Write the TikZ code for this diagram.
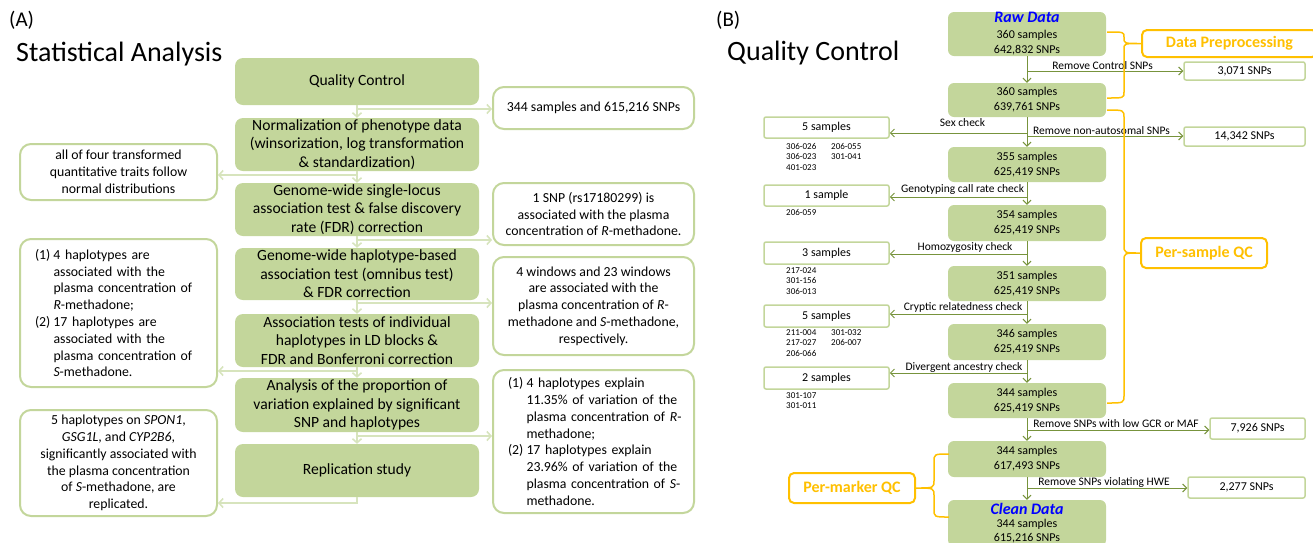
\documentclass[tikz,border=0pt]{standalone}
\usepackage{fontspec}
\setmainfont{Carlito}
\usetikzlibrary{arrows.meta}
\definecolor{gfill}{HTML}{C3D69B}
\definecolor{gline}{HTML}{D7E4BD}
\definecolor{dgreen}{HTML}{77933C}
\definecolor{qcorange}{HTML}{FFC000}
\definecolor{rawblue}{HTML}{0000FF}
\newcommand{\enumlab}[1]{\makebox[18.5pt][l]{#1}}
\newcommand{\enumind}{\hspace*{18.5pt}}
\begin{document}
\begin{tikzpicture}[x=1pt,y=-1pt,
  gbox/.style={fill=gfill, rounded corners=8pt, minimum width=244pt, inner sep=0pt, align=center, font=\fontsize{15.6}{18.5}\selectfont},
  wbox/.style={draw=gfill, line width=2pt, fill=white, rounded corners=11pt, minimum width=201pt, inner sep=0pt, align=center, font=\fontsize{13.8}{16.8}\selectfont},
  lbox/.style={wbox, minimum width=197pt},
  aconn/.style={draw=gline, line width=1.6pt, -{Straight Barb[length=4pt,width=9pt]}},
  sbox/.style={fill=gfill, rounded corners=6pt, minimum width=158pt, inner sep=0pt, align=center, font=\fontsize{12}{15}\selectfont},
  tbox/.style={draw=gfill, line width=1.5pt, fill=white, rounded corners=2pt, inner sep=0pt, minimum width=125pt, minimum height=21pt, font=\fontsize{12}{14}\selectfont},
  bconn/.style={draw=dgreen, line width=1pt, -{Straight Barb[length=4pt,width=8pt]}},
  clabel/.style={inner sep=0pt, font=\fontsize{11.5}{13}\selectfont},
  idtext/.style={anchor=north west, inner sep=0pt, align=left, font=\fontsize{9}{10.7}\selectfont},
  obox/.style={draw=qcorange, line width=2pt, fill=white, rounded corners=5pt, inner sep=0pt, minimum width=126pt, minimum height=30pt, text=qcorange, font=\fontsize{16}{18}\selectfont\bfseries},
  brc/.style={draw=qcorange, line width=1.5pt},
  title/.style={inner sep=0pt, font=\fontsize{28}{32}\selectfont},
]
\useasboundingbox (0,0) rectangle (1313,542);
\clip (0,0) rectangle (1313,542);

% ---------------- (A) ----------------
\node[title, anchor=west, font=\fontsize{21}{24}\selectfont] (tA) at (9,20) {(A)};
\node[title, anchor=base west] (tSA) at (16,61) {Statistical Analysis};

\node[gbox, minimum height=47pt] (qc) at (357,81.5) {Quality Control};
\node[gbox, minimum height=53pt] (norm) at (357,144.5) {Normalization of phenotype data\\(winsorization, log transformation\\\& standardization)};
\node[gbox, minimum height=53pt] (single) at (357,209.5) {Genome-wide single-locus\\association test \& false discovery\\rate (FDR) correction};
\node[gbox, minimum height=52pt] (hapl) at (357,274) {Genome-wide haplotype-based\\association test (omnibus test)\\\& FDR correction};
\node[gbox, minimum height=53pt] (assoc) at (357,340.5) {Association tests of individual\\haplotypes in LD blocks \&\\FDR and Bonferroni correction};
\node[gbox, minimum height=54pt] (prop) at (357,405) {Analysis of the proportion of\\variation explained by significant\\SNP and haplotypes};
\node[gbox, minimum height=53pt] (repl) at (357,470.5) {Replication study};

\node[wbox, minimum height=42pt] (r1) at (593.5,108) {344 samples and 615,216 SNPs};
\node[wbox, minimum height=62pt] (r2) at (593.5,214) {1 SNP (rs17180299) is\\associated with the plasma\\concentration of \textit{R}-methadone.};
\node[wbox, minimum height=98pt] (r3) at (593.5,306) {4 windows and 23 windows\\are associated with the\\plasma concentration of \textit{R}-\\methadone and \textit{S}-methadone,\\respectively.};
\node[wbox, minimum height=143pt, align=left, text width=171pt, inner xsep=15pt] (r4) at (593.5,441.5) {\enumlab{(1)}\mbox{4 haplotypes explain}\\\enumind\mbox{11.35\% of variation of the}\\\enumind\mbox{plasma concentration of \textit{R}-}\\\enumind methadone;\\\enumlab{(2)}\mbox{17 haplotypes explain}\\\enumind\mbox{23.96\% of variation of the}\\\enumind\mbox{plasma concentration of \textit{S}-}\\\enumind methadone.};

\node[lbox, minimum height=56pt] (l1) at (118.5,172) {all of four transformed\\quantitative traits follow\\normal distributions};
\node[lbox, minimum height=148pt, align=left, text width=167pt, inner xsep=15pt] (l2) at (118.5,313) {\enumlab{(1)}\mbox{4 haplotypes are}\\\enumind\mbox{associated with the}\\\enumind\mbox{plasma concentration of}\\\enumind\mbox{\textit{R}-methadone;}\\\enumlab{(2)}\mbox{17 haplotypes are}\\\enumind\mbox{associated with the}\\\enumind\mbox{plasma concentration of}\\\enumind\mbox{\textit{S}-methadone.}};
\node[lbox, minimum height=106pt] (l3) at (118.5,463) {5 haplotypes on \textit{SPON1},\\\textit{GSG1L}, and \textit{CYP2B6},\\significantly associated with\\the plasma concentration\\of \textit{S}-methadone, are\\replicated.};

\coordinate (ja) at (357,109);
\coordinate (jb) at (357,175);
\coordinate (jc) at (357,240);
\coordinate (jd) at (357,303);
\coordinate (je) at (357,371);
\coordinate (jf) at (357,436);
\coordinate (jg) at (357,503);

\draw[aconn] (qc.south) -- (norm.north);
\draw[aconn] (norm.south) -- (single.north);
\draw[aconn] (single.south) -- (hapl.north);
\draw[aconn] (hapl.south) -- (assoc.north);
\draw[aconn] (assoc.south) -- (prop.north);
\draw[aconn] (prop.south) -- (repl.north);
\draw[aconn] (ja) -- (ja -| r1.west);
\draw[aconn] (jb) -- (jb -| l1.east);
\draw[aconn] (jc) -- (jc -| r2.west);
\draw[aconn] (jd) -- (jd -| r3.west);
\draw[aconn] (je) -- (je -| l2.east);
\draw[aconn] (jf) -- (jf -| r4.west);
\draw[aconn] (repl.south) -- (jg) -- (jg -| l3.east);

% ---------------- (B) ----------------
\node[title, anchor=west, font=\fontsize{21}{24}\selectfont] (tB) at (716,20) {(B)};
\node[title, anchor=base west] (tQC) at (727,60) {Quality Control};

\node[sbox, minimum height=44pt, font=\fontsize{12}{15.5}\selectfont] (b1) at (1027,34) {{\color{rawblue}\bfseries\itshape\fontsize{16}{15.5}\selectfont Raw Data}\\360 samples\\642,832 SNPs};
\node[sbox, minimum height=34pt] (b2) at (1027,100) {360 samples\\639,761 SNPs};
\node[sbox, minimum height=35pt] (b3) at (1027,164.5) {355 samples\\625,419 SNPs};
\node[sbox, minimum height=36pt] (b4) at (1027,223) {354 samples\\625,419 SNPs};
\node[sbox, minimum height=35pt] (b5) at (1027,283.5) {351 samples\\625,419 SNPs};
\node[sbox, minimum height=36pt] (b6) at (1027,342) {346 samples\\625,419 SNPs};
\node[sbox, minimum height=35pt] (b7) at (1027,400.5) {344 samples\\625,419 SNPs};
\node[sbox, minimum height=36pt] (b8) at (1027,459) {344 samples\\617,493 SNPs};
\node[sbox, minimum height=46pt, font=\fontsize{12}{13.5}\selectfont] (b9) at (1027,523) {{\color{rawblue}\bfseries\itshape\fontsize{16}{13.5}\selectfont Clean Data}\\344 samples\\615,216 SNPs};

\node[tbox, minimum width=121pt, minimum height=18pt] (rb1) at (1244.5,71) {3,071 SNPs};
\node[tbox, minimum width=121pt, minimum height=19pt] (rb2) at (1244.5,136.5) {14,342 SNPs};
\node[tbox, minimum width=95pt] (rb3) at (1257.5,428.5) {7,926 SNPs};
\node[tbox, minimum width=117pt] (rb4) at (1246.5,487.5) {2,277 SNPs};

\node[tbox] (lb1) at (826.5,127.5) {5 samples};
\node[tbox] (lb2) at (826.5,195.5) {1 sample};
\node[tbox, minimum height=22pt] (lb3) at (826.5,253) {3 samples};
\node[tbox, minimum height=22pt] (lb4) at (826.5,316) {5 samples};
\node[tbox, minimum height=22pt] (lb5) at (826.5,378) {2 samples};

\node[idtext] (id1a) at (786,143) {306-026\\306-023\\401-023};
\node[idtext] (id1b) at (831,143) {206-055\\301-041};
\node[idtext] (id2) at (786,209) {206-059};
\node[idtext] (id3) at (786,267) {217-024\\301-156\\306-013};
\node[idtext] (id4a) at (786,329) {211-004\\217-027\\206-066};
\node[idtext] (id4b) at (831,329) {301-032\\206-007};
\node[idtext] (id5) at (786,392) {301-107\\301-011};

\coordinate (sa) at (1027,71);
\coordinate (sb) at (1027,133);
\coordinate (sc) at (1027,136);
\coordinate (sd) at (1027,197);
\coordinate (se) at (1027,254);
\coordinate (sf) at (1027,314);
\coordinate (sg) at (1027,373);
\coordinate (sh) at (1027,430);
\coordinate (si) at (1027,488);

\draw[bconn] (b1.south) -- (b2.north);
\draw[bconn] (b2.south) -- (b3.north);
\draw[bconn] (b3.south) -- (b4.north);
\draw[bconn] (b4.south) -- (b5.north);
\draw[bconn] (b5.south) -- (b6.north);
\draw[bconn] (b6.south) -- (b7.north);
\draw[bconn] (b7.south) -- (b8.north);
\draw[bconn] (b8.south) -- (b9.north);
\draw[bconn] (sa) -- (sa -| rb1.west);
\draw[bconn] (sb) -- (sb -| lb1.east);
\draw[bconn] (sc) -- (sc -| rb2.west);
\draw[bconn] (sd) -- (sd -| lb2.east);
\draw[bconn] (se) -- (se -| lb3.east);
\draw[bconn] (sf) -- (sf -| lb4.east);
\draw[bconn] (sg) -- (sg -| lb5.east);
\draw[bconn] (sh) -- (sh -| rb3.west);
\draw[bconn] (si) -- (si -| rb4.west);

\node[clabel] (lctrl) at (1102.5,66) {Remove Control SNPs};
\node[clabel] (lsex) at (962.5,123) {Sex check};
\node[clabel] (lauto) at (1101.5,131) {Remove non-autosomal SNPs};
\node[clabel] (lgeno) at (962.5,189) {Genotyping call rate check};
\node[clabel] (lhomo) at (965,247) {Homozygosity check};
\node[clabel] (lcryp) at (963,307) {Cryptic relatedness check};
\node[clabel] (ldiv) at (964,367) {Divergent ancestry check};
\node[clabel] (lgcr) at (1116,424) {Remove SNPs with low GCR or MAF};
\node[clabel] (lhwe) at (1104,482) {Remove SNPs violating HWE};

\node[obox, minimum width=175pt, minimum height=27pt] (dp) at (1229.5,43.5) {Data Preprocessing};
\node[obox] (psqc) at (1204,253) {Per-sample QC};
\node[obox] (pmqc) at (852,488) {Per-marker QC};

\draw[brc] (1107,32) .. controls (1124,32) .. (1124,37) -- (1124,38) .. controls (1124,43.5) .. (dp.west) .. controls (1124,43.5) .. (1124,49) -- (1124,92) .. controls (1124,98) .. (1107,98);
\draw[brc] (1107,110) .. controls (1124,110) .. (1124,118) -- (1124,245) .. controls (1124,253) .. (psqc.west) .. controls (1124,253) .. (1124,261) -- (1124,395) .. controls (1124,403) .. (1107,403);
\draw[brc] (949,454) .. controls (934,454) .. (934,462) -- (934,480) .. controls (934,488) .. (pmqc.east) .. controls (934,488) .. (934,496) -- (934,509) .. controls (934,517) .. (949,517);
\end{tikzpicture}
\end{document}
